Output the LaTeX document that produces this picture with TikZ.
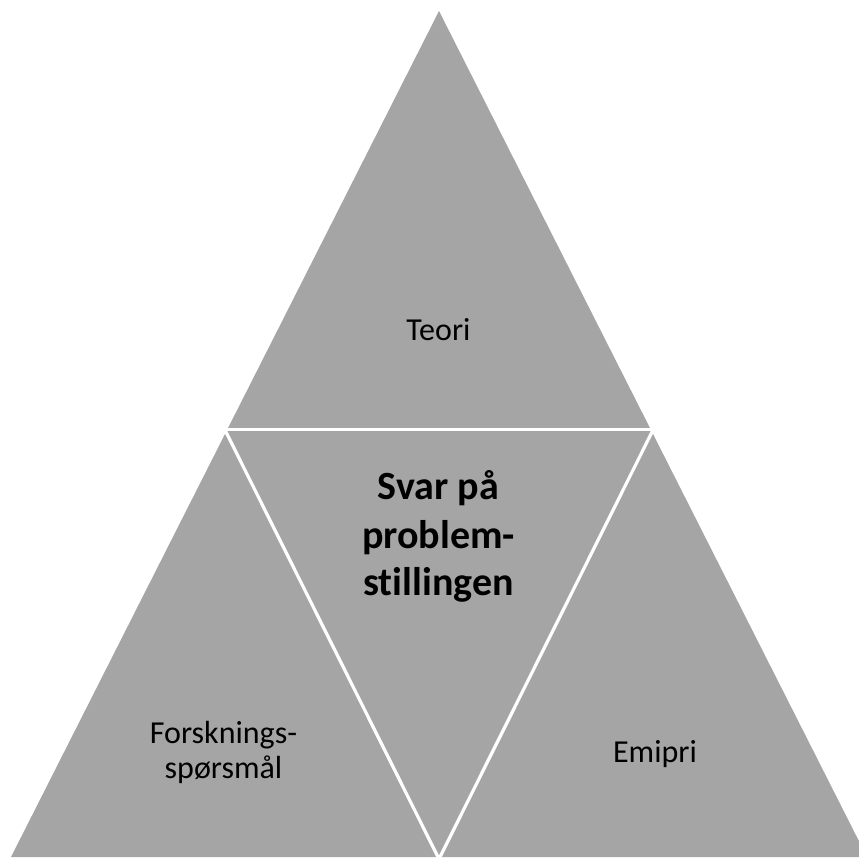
\documentclass[tikz,border=0pt]{standalone}
\usepackage{fontspec}
\setmainfont{Carlito}[Ligatures=NoCommon]
\definecolor{segGray}{RGB}{165,165,165}
\begin{document}
\begin{tikzpicture}[x=1pt,y=-1pt,
  seg/.style={fill=segGray,draw=none},
  gap/.style={draw=white,line width=3.2pt},
  lbl/.style={anchor=base,inner sep=0pt,font=\fontsize{32}{38}\selectfont,text=black},
  blbl/.style={anchor=base,inner sep=0pt,font=\fontsize{40}{48}\selectfont\bfseries,text=black}]
\useasboundingbox (0,0) rectangle (859,857);
\begin{scope}
\clip (0,0) rectangle (859,857);
\path[seg] (439,11) -- (11,857) -- (867,857) -- cycle;
\coordinate (gl) at (224,429.5);
\coordinate (gr) at (654,429.5);
\coordinate (bot) at (439,859);
\draw[gap] (gl) -- (gr);
\draw[gap] (225,430) -- (bot);
\draw[gap] (653,430) -- (bot);
\end{scope}
\node[lbl] (teori) at (438.5,340.7) {Teori};
\node[blbl] (s1) at (438.5,499) {Svar på};
\node[blbl] (s2) at (438.5,548) {problem-};
\node[blbl] (s3) at (438.5,595) {stillingen};
\node[lbl] (f1) at (223.5,743) {Forsknings-};
\node[lbl] (f2) at (223.5,778) {spørsmål};
\node[lbl] (emp) at (655,762) {Emipri};
\end{tikzpicture}
\end{document}
